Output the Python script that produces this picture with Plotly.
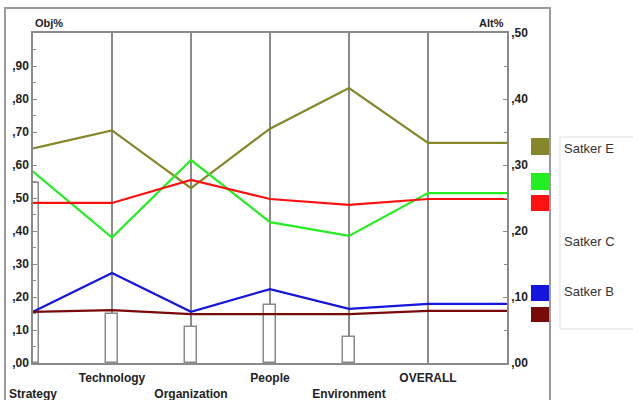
import plotly.graph_objects as go

categories = ["Strategy", "Technology", "Organization", "People", "Environment", "OVERALL"]
tick_labels = ["<br>Strategy", "Technology", "<br>Organization", "People", "<br>Environment", "OVERALL"]

satker_e = [0.65, 0.705, 0.53, 0.71, 0.833, 0.667]
satker_green = [0.58, 0.38, 0.615, 0.427, 0.385, 0.515]
satker_red = [0.485, 0.485, 0.555, 0.497, 0.479, 0.497]
satker_b = [0.155, 0.273, 0.155, 0.224, 0.164, 0.179]
satker_darkred = [0.155, 0.16, 0.148, 0.148, 0.148, 0.158]

weights = [0.545, 0.148, 0.109, 0.176, 0.079]

left_ticks = [0, 0.1, 0.2, 0.3, 0.4, 0.5, 0.6, 0.7, 0.8, 0.9]
left_tick_text = [",00", ",10", ",20", ",30", ",40", ",50", ",60", ",70", ",80", ",90"]
right_ticks = [0, 0.1, 0.2, 0.3, 0.4, 0.5]
right_tick_text = [",00", ",10", ",20", ",30", ",40", ",50"]

series = [
    ("Satker E", satker_e, "#86862a"),
    ("Satker G", satker_green, "#22ee22"),
    ("Satker R", satker_red, "#ff1010"),
    ("Satker B", satker_b, "#1515e0"),
    ("Satker D", satker_darkred, "#7a0a0a"),
]

FONT = "Liberation Sans Narrow, Arial Narrow, Liberation Sans, sans-serif"
GRID = "#8a8a8a"
TICKFONT = dict(family=FONT, size=12, color="#222", weight="bold")

fig = go.Figure()

fig.add_trace(go.Bar(
    x=list(range(len(weights))), y=weights, width=0.14,
    marker=dict(color="white", line=dict(color=GRID, width=1.5)),
    showlegend=False, hoverinfo="skip",
))

xs = list(range(len(categories) + 1))
for name, vals, color in series:
    fig.add_trace(go.Scatter(
        x=xs, y=vals + [vals[-1]], mode="lines", name=name,
        line=dict(color=color, width=2.2), showlegend=False,
    ))

fig.add_trace(go.Scatter(x=[0], y=[0], yaxis="y2", mode="markers",
                         marker=dict(opacity=0), showlegend=False, hoverinfo="skip"))

def px2px(px):
    return (px - 33) / 474.0

def py2py(py):
    return (363 - py) / 330.0

shapes = []
shapes.append(dict(type="rect", xref="paper", yref="paper",
                   x0=px2px(5), x1=px2px(550), y0=py2py(404), y1=py2py(8),
                   line=dict(color="#9a9a9a", width=2), fillcolor="rgba(0,0,0,0)", layer="below"))
shapes.append(dict(type="rect", xref="paper", yref="paper",
                   x0=px2px(560), x1=px2px(634), y0=py2py(329), y1=py2py(137),
                   line=dict(color="#dddddd", width=1), fillcolor="white", layer="below"))
swatches = [("#86862a", 138, 155), ("#22ee22", 173, 190), ("#ff1010", 195, 211),
            ("#1515e0", 285, 301), ("#7a0a0a", 307, 322)]
for c, t, b in swatches:
    shapes.append(dict(type="rect", xref="paper", yref="paper",
                       x0=px2px(531), x1=px2px(549), y0=py2py(b), y1=py2py(t),
                       line=dict(width=0), fillcolor=c))

annotations = [
    dict(text="Obj%", xref="paper", yref="paper", x=px2px(33), y=py2py(23),
         xanchor="left", yanchor="middle", showarrow=False,
         font=dict(family=FONT, size=11, color="#222", weight="bold")),
    dict(text="Alt%", xref="paper", yref="paper", x=px2px(506), y=py2py(23),
         xanchor="right", yanchor="middle", showarrow=False,
         font=dict(family=FONT, size=11, color="#222", weight="bold")),
]
for label, py in [("Satker E", 148), ("Satker C", 241), ("Satker B", 291)]:
    annotations.append(dict(text=label, xref="paper", yref="paper", x=px2px(562), y=py2py(py),
                            xanchor="left", yanchor="middle", showarrow=False,
                            font=dict(family="Liberation Sans, Arial, sans-serif", size=13, color="#333")))

fig.update_layout(
    width=633, height=400,
    margin=dict(l=33, r=126, t=33, b=37),
    paper_bgcolor="white", plot_bgcolor="white",
    font=dict(family=FONT, size=12, color="#222"),
    bargap=0,
    xaxis=dict(range=[0, 6], tickvals=list(range(len(categories))), ticktext=tick_labels,
               showgrid=True, gridcolor=GRID, gridwidth=1.5, zeroline=False,
               showline=True, linecolor=GRID, linewidth=1.5, mirror=True,
               ticks="", tickfont=TICKFONT, automargin=False, ticklabelstandoff=3),
    yaxis=dict(range=[0, 1.0], tickvals=left_ticks, ticktext=left_tick_text,
               showgrid=False, zeroline=False, showline=True, linecolor=GRID, linewidth=1.5,
               ticks="inside", ticklen=4, tickcolor=GRID,
               minor=dict(dtick=0.05, ticks="inside", ticklen=3, tickcolor=GRID),
               tickfont=TICKFONT, automargin=False),
    yaxis2=dict(range=[0, 0.5], tickvals=right_ticks, ticktext=right_tick_text,
                overlaying="y", side="right", showgrid=False, zeroline=False,
                showline=True, linecolor=GRID, linewidth=1.5,
                ticks="inside", ticklen=4, tickcolor=GRID,
                minor=dict(dtick=0.05, ticks="inside", ticklen=3, tickcolor=GRID),
                tickfont=TICKFONT, automargin=False),
    shapes=shapes,
    annotations=annotations,
    showlegend=False,
)

fig.write_html("out.html", config={"displayModeBar": False},
               post_script="document.body.style.margin='0';")
